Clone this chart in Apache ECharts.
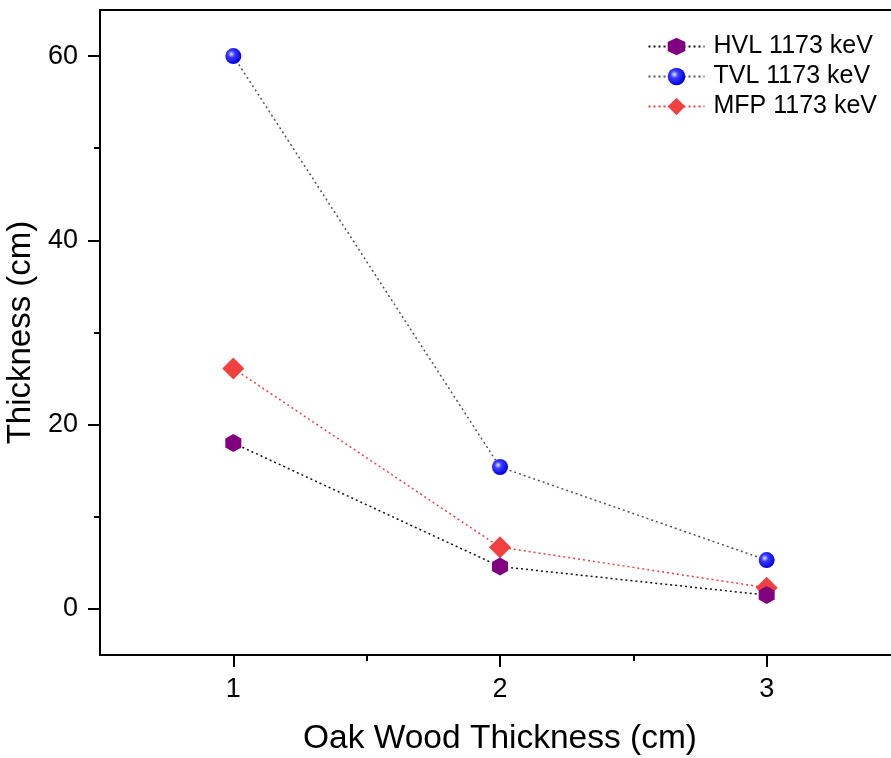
<!DOCTYPE html>
<html>
<head>
<meta charset="utf-8">
<script src="https://cdn.jsdelivr.net/npm/echarts@6/dist/echarts.min.js"></script>
<style>html,body{margin:0;padding:0;background:#fff;}#c{width:891px;height:758px;}</style>
</head>
<body>
<div id="c"></div>
<script>
const xValues = [1, 2, 3];
const hvl = [18.0, 4.6, 1.5];
const tvl = [60.0, 15.4, 5.3];
const mfp = [26.1, 6.7, 2.3];
const seriesNames = ['HVL 1173 keV', 'TVL 1173 keV', 'MFP 1173 keV'];
const xTitle = 'Oak Wood Thickness (cm)';
const yTitle = 'Thickness (cm)';
const xMajorTicks = [1, 2, 3];
const xMinorTicks = [1.5, 2.5];
const yMajorTicks = [0, 20, 40, 60];
const yMinorTicks = [10, 30, 50];

const font = 'Liberation Sans, Arial, sans-serif';
const hexPath = 'path://M0,-1 L0.866,-0.5 L0.866,0.5 L0,1 L-0.866,0.5 L-0.866,-0.5 Z';
const pairs = arr => xValues.map((x, i) => [x, arr[i]]);

const axisBase = {
  type: 'value',
  axisLine: {onZero: false, lineStyle: {color: '#000', width: 2}},
  splitLine: {show: false}
};

const chart = echarts.init(document.getElementById('c'), null, {renderer: 'canvas'});
chart.setOption({
  animation: false,
  backgroundColor: '#fff',
  grid: {left: 100, top: 10, right: -9, bottom: 103, containLabel: false, outerBoundsMode: 'none',
         show: true, borderColor: '#000', borderWidth: 2, backgroundColor: 'transparent'},
  legend: {
    orient: 'vertical', right: 9, top: 29, itemWidth: 56, itemHeight: 22, itemGap: 5,
    textStyle: {fontFamily: font, fontSize: 25, color: '#000', lineHeight: 22, padding: [0, 0, 0, 4]},
    data: seriesNames
  },
  xAxis: [
    Object.assign({}, axisBase, {
      min: 0.5, max: 3.5,
      name: xTitle, nameLocation: 'middle', nameGap: 67,
      nameTextStyle: {fontFamily: font, fontSize: 33.5, color: '#000'},
      axisTick: {show: true, length: 12, lineStyle: {color: '#000', width: 2}, customValues: xMajorTicks},
      axisLabel: {fontFamily: font, fontSize: 27, color: '#000', margin: 21, customValues: xMajorTicks}
    }),
    Object.assign({}, axisBase, {
      min: 0.5, max: 3.5, position: 'bottom',
      axisTick: {show: true, length: 6, lineStyle: {color: '#000', width: 2}, customValues: xMinorTicks},
      axisLabel: {show: false}
    })
  ],
  yAxis: [
    Object.assign({}, axisBase, {
      min: -5, max: 65,
      name: yTitle, nameLocation: 'middle', nameGap: 58,
      nameTextStyle: {fontFamily: font, fontSize: 33, color: '#000'},
      axisTick: {show: true, length: 12, lineStyle: {color: '#000', width: 2}, customValues: yMajorTicks},
      axisLabel: {fontFamily: font, fontSize: 27, color: '#000', margin: 22, customValues: yMajorTicks}
    }),
    Object.assign({}, axisBase, {
      min: -5, max: 65, position: 'left',
      axisTick: {show: true, length: 6, lineStyle: {color: '#000', width: 2}, customValues: yMinorTicks},
      axisLabel: {show: false}
    })
  ],
  series: [
    {
      name: seriesNames[0], type: 'line', data: pairs(hvl), z: 3,
      symbol: hexPath, symbolSize: [16, 18],
      itemStyle: {color: '#800080'},
      lineStyle: {color: '#111', width: 1.5, type: [2, 3]}
    },
    {
      name: seriesNames[1], type: 'line', data: pairs(tvl), z: 2,
      symbol: 'circle', symbolSize: 16,
      itemStyle: {color: {type: 'radial', x: 0.38, y: 0.38, r: 0.62, colorStops: [
        {offset: 0, color: '#e6e6ff'}, {offset: 0.35, color: '#3a3aff'}, {offset: 1, color: '#0000e0'}]}},
      lineStyle: {color: '#555', width: 1.5, type: [2, 3]}
    },
    {
      name: seriesNames[2], type: 'line', data: pairs(mfp), z: 2,
      symbol: 'diamond', symbolSize: [22, 22],
      itemStyle: {color: '#f04040'},
      lineStyle: {color: '#f04040', width: 1.5, type: [2, 3]}
    }
  ]
});
</script>
</body>
</html>
